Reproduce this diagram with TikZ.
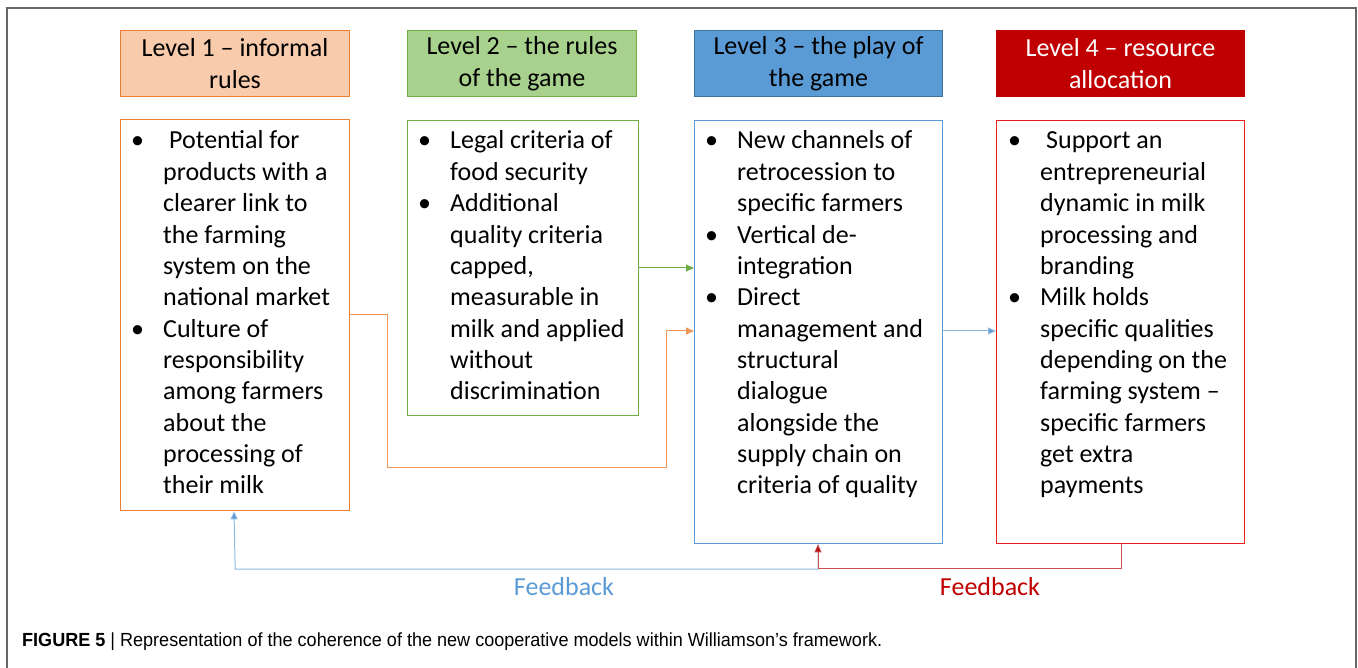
\documentclass[tikz,border=0pt]{standalone}
\usepackage{fontspec}
\setmainfont{Carlito}
\newfontfamily\capfont{Liberation Sans}
\usetikzlibrary{arrows.meta}
\definecolor{orng}{HTML}{ED7D31}
\definecolor{peach}{HTML}{F8CBAD}
\definecolor{grn}{HTML}{70AD47}
\definecolor{lgrn}{HTML}{A9D18E}
\definecolor{blu}{HTML}{5B9BD5}
\definecolor{dblu}{HTML}{41719C}
\definecolor{lblu}{HTML}{8FB8E0}
\definecolor{dred}{HTML}{C00000}
\definecolor{brred}{HTML}{E81C1C}
\definecolor{fbred}{HTML}{C85050}
\definecolor{framegray}{HTML}{666666}
\newcommand{\bodyfont}{\fontsize{26}{31.36}\selectfont}
\begin{document}
\begin{tikzpicture}[x=1pt,y=-1pt,
  hdr/.style={draw, line width=1pt, minimum width=229pt, minimum height=66pt, anchor=north west, align=center, inner sep=0pt, font=\fontsize{26}{32}\selectfont},
  bodybox/.style={draw, line width=1.3pt, anchor=north west, inner sep=0pt},
  bodytext/.style={anchor=base west, inner sep=0pt, font=\bodyfont},
  conn/.style={line width=1pt},
  tip/.style={-{Triangle[length=8pt,width=7pt]}}
]
\useasboundingbox (0,0) rectangle (1358,668);
\draw[framegray, line width=1.6pt] (7,668) -- (7,8) -- (1356,8) -- (1356,668);

% headers
\node[hdr, draw=orng, fill=peach, minimum width=229pt] (h1) at (120,30) {Level 1 – informal\\rules};
\node[hdr, draw=grn, fill=lgrn, minimum width=229pt] (h2) at (407,30) {Level 2 – the rules\\of the game};
\node[hdr, draw=dblu, fill=blu, minimum width=248pt] (h3) at (694,30) {Level 3 – the play of\\the game};
\node[hdr, draw=dred, fill=dred, text=white, minimum width=248pt] (h4) at (996,30) {Level 4 – resource\\allocation};

% body boxes
\node[bodybox, draw=orng, minimum width=229pt, minimum height=391pt] (b1) at (120,119) {};
\node[bodybox, draw=grn, minimum width=231pt, minimum height=295pt] (b2) at (407,120) {};
\node[bodybox, draw=blu, minimum width=248pt, minimum height=423pt] (b3) at (694,120) {};
\node[bodybox, draw=brred, minimum width=248pt, minimum height=423pt] (b4) at (996,120) {};

% body texts
\node[bodytext] (t1) at (131,149) {\begin{tabular}[t]{@{}p{32pt}@{}l@{}}
• & \hspace{6pt}Potential for\\
 & products with a\\
 & clearer link to\\
 & the farming\\
 & system on the\\
 & national market\\
• & Culture of\\
 & responsibility\\
 & among farmers\\
 & about the\\
 & processing of\\
 & their milk
\end{tabular}};
\node[bodytext] (t2) at (418,149) {\begin{tabular}[t]{@{}p{32pt}@{}l@{}}
• & Legal criteria of\\
 & food security\\
• & Additional\\
 & quality criteria\\
 & capped,\\
 & measurable in\\
 & milk and applied\\
 & without\\
 & discrimination
\end{tabular}};
\node[bodytext] (t3) at (705,149) {\begin{tabular}[t]{@{}p{32pt}@{}l@{}}
• & New channels of\\
 & retrocession to\\
 & specific farmers\\
• & Vertical de-\\
 & integration\\
• & Direct\\
 & management and\\
 & structural\\
 & dialogue\\
 & alongside the\\
 & supply chain on\\
 & criteria of quality
\end{tabular}};
\node[bodytext] (t4) at (1008,149) {\begin{tabular}[t]{@{}p{32pt}@{}l@{}}
• & \hspace{6pt}Support an\\
 & entrepreneurial\\
 & dynamic in milk\\
 & processing and\\
 & branding\\
• & Milk holds\\
 & specific qualities\\
 & depending on the\\
 & farming system –\\
 & specific farmers\\
 & get extra\\
 & payments
\end{tabular}};

% connectors
\draw[conn, grn, tip] (b2.east |- 0,268) -- (b3.west |- 0,268);
\draw[conn, orng!80, tip] (b1.east |- 0,315) -- (387,315) -- (387,467) -- (666,467) -- (666,331) -- (b3.west |- 0,331);
\draw[conn, lblu, -{Triangle[length=8pt,width=7pt,fill=blu]}] (b3.east |- 0,331) -- (b4.west |- 0,331);

% feedback
\coordinate (fbj) at (818,569);
\draw[conn, lblu, -{Triangle[length=8pt,width=7pt,fill=blu]}] (b3.south -| fbj) -- (fbj) -- (b1.south |- fbj) -- (b1.south -| 234,0);
\draw[conn, fbred] (b4.south -| 1121,0) -- (1121,568) -- (818,568);
\draw[conn, fbred, -{Triangle[length=8pt,width=7pt,fill=dred]}] (818,568) -- (b3.south -| fbj);
\node[font=\fontsize{26}{30}\selectfont, text=blu] (fb1) at (564,587) {Feedback};
\node[font=\fontsize{26}{30}\selectfont, text=dred] (fb2) at (990,587) {Feedback};

% caption
\node[anchor=base west, inner sep=0pt] (cap) at (22,646) {\resizebox{860pt}{\height}{\capfont\fontsize{19}{21}\selectfont\textbf{FIGURE 5} | Representation of the coherence of the new cooperative models within Williamson’s framework.}};
\end{tikzpicture}
\end{document}
